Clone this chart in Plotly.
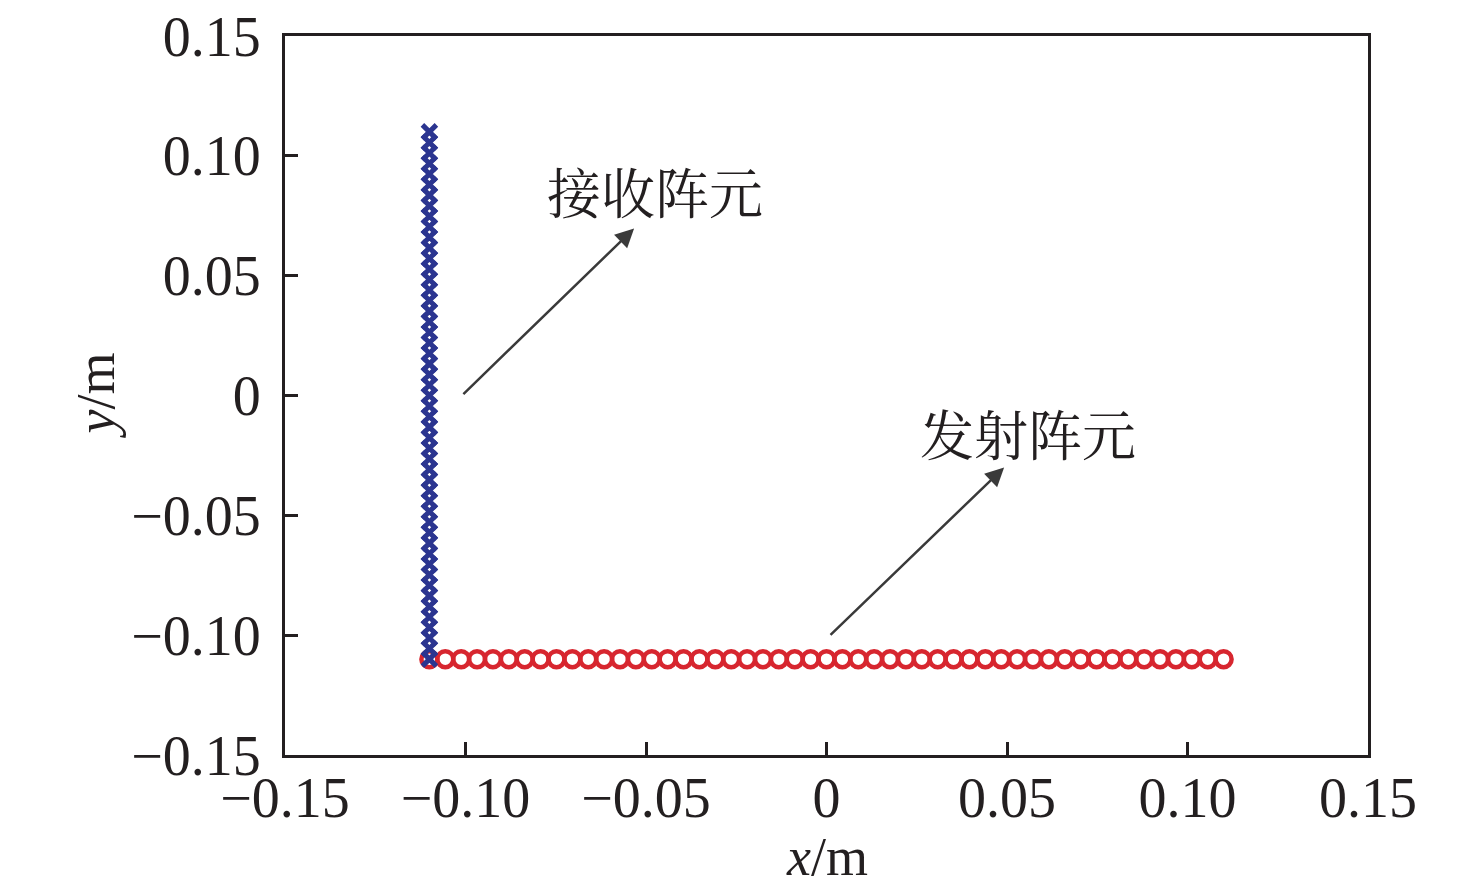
import plotly.graph_objects as go

# Element positions along each array (m)
element_pos = [-0.11, -0.1056, -0.1012, -0.0968, -0.0924, -0.088, -0.0836, -0.0792,
               -0.0748, -0.0704, -0.066, -0.0616, -0.0572, -0.0528, -0.0484, -0.044,
               -0.0396, -0.0352, -0.0308, -0.0264, -0.022, -0.0176, -0.0132, -0.0088,
               -0.0044, 0.0, 0.0044, 0.0088, 0.0132, 0.0176, 0.022, 0.0264, 0.0308,
               0.0352, 0.0396, 0.044, 0.0484, 0.0528, 0.0572, 0.0616, 0.066, 0.0704,
               0.0748, 0.0792, 0.0836, 0.088, 0.0924, 0.0968, 0.1012, 0.1056, 0.11]
array_offset = -0.11

tx_x = element_pos
tx_y = [array_offset] * len(element_pos)
rx_x = [array_offset] * len(element_pos)
rx_y = element_pos

tick_vals = [-0.15, -0.10, -0.05, 0, 0.05, 0.10, 0.15]
tick_text = ["\u22120.15", "\u22120.10", "\u22120.05", "0", "0.05", "0.10", "0.15"]

labels = ["接收阵元", "发射阵元"]
label_pos = [(-0.0475, 0.0855), (0.0558, -0.0154)]
arrow_tail = [(-0.101, 0.0), (0.0007, -0.1005)]
arrow_head = [(-0.0533, 0.0697), (0.0492, -0.030)]

x_title = "<i>x</i>/m"
y_title = "<i>y</i>/m"

fig = go.Figure()
fig.add_trace(go.Scatter(
    x=tx_x, y=tx_y, mode="markers",
    marker=dict(symbol="circle-open", size=16, color="#d7262f",
                line=dict(width=4.5, color="#d7262f")),
    showlegend=False))
fig.add_trace(go.Scatter(
    x=rx_x, y=rx_y, mode="markers",
    marker=dict(symbol="x-thin-open", size=14, color="#2b3590",
                line=dict(width=5, color="#2b3590")),
    showlegend=False))

for (hx, hy), (tx, ty) in zip(arrow_head, arrow_tail):
    fig.add_annotation(x=hx, y=hy, ax=tx, ay=ty, xref="x", yref="y",
                       axref="x", ayref="y", text="", showarrow=True,
                       arrowhead=2, arrowsize=1.5, arrowwidth=2.5,
                       arrowcolor="#3a3a3a")
for t, (lx, ly) in zip(labels, label_pos):
    fig.add_annotation(x=lx, y=ly, xref="x", yref="y", text=t, showarrow=False,
                       font=dict(family="Noto Serif CJK SC, Noto Sans CJK SC", size=54, color="#231f20"))

title_font = dict(family="Liberation Serif", size=54, color="#231f20")
fig.add_annotation(x=0.5, y=-0.142, xref="paper", yref="paper", text=x_title,
                   showarrow=False, yanchor="middle", font=title_font)
fig.add_annotation(x=-0.1754, y=0.5, xref="paper", yref="paper", text=y_title,
                   showarrow=False, xanchor="center", yanchor="middle",
                   textangle=-90, font=title_font)

axis_common = dict(
    range=[-0.15, 0.15], tickmode="array", tickvals=tick_vals, ticktext=tick_text,
    showgrid=False, zeroline=False, showline=True, linecolor="#231f20", linewidth=3,
    mirror=True, ticks="inside", ticklen=13, tickwidth=3, tickcolor="#231f20",
    ticklabeloverflow="allow", automargin=False,
    tickfont=dict(family="Liberation Serif", size=56, color="#231f20"),
)
fig.update_xaxes(**axis_common, ticklabelstandoff=-8)
fig.update_yaxes(**axis_common, ticklabelstandoff=10)

fig.update_layout(
    width=1476, height=894,
    margin=dict(l=277, r=116, t=28, b=147),
    plot_bgcolor="white", paper_bgcolor="white",
)
fig.write_html("out.html")
